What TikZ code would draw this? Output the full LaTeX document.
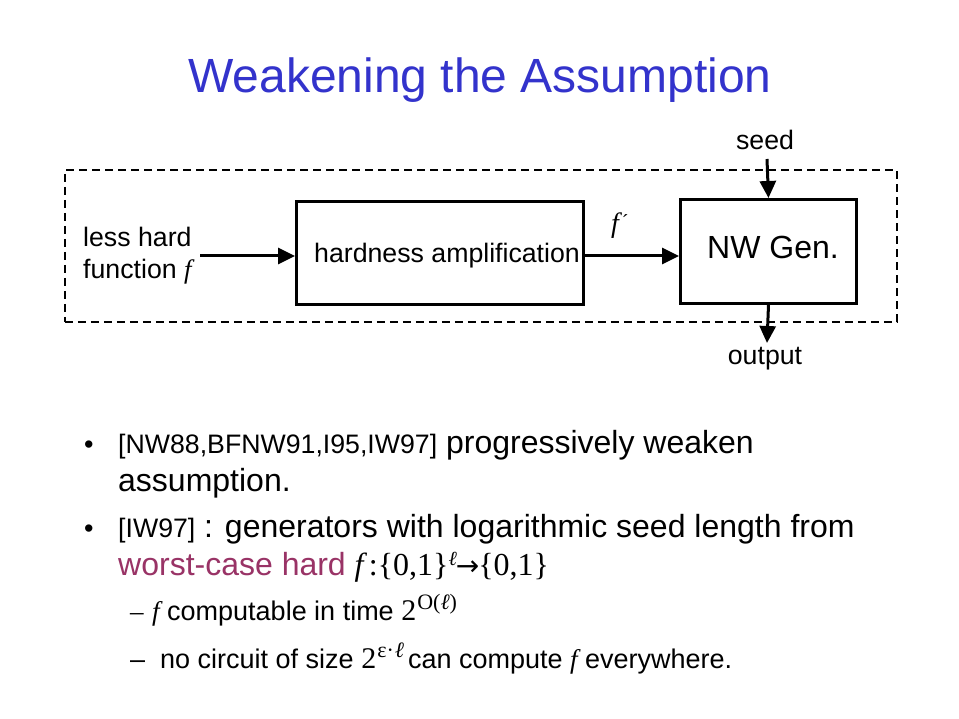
\documentclass[tikz,border=0pt]{standalone}
\usepackage{fontspec}
\setmainfont{Liberation Sans}
\newfontfamily\tms{Liberation Serif}
\newfontfamily\dvs{DejaVu Sans}
\usetikzlibrary{arrows.meta}
\definecolor{titleblue}{HTML}{3333CC}
\definecolor{plum}{HTML}{993366}
\newcommand{\fsz}[1]{\fontsize{#1}{#1}\selectfont}
\newcommand{\mf}{{\tms\itshape f}}
\begin{document}
\begin{tikzpicture}[x=1pt,y=-1pt,
  txt/.style={anchor=base west, inner sep=0pt, font=\fsz{27}},
  big/.style={anchor=base west, inner sep=0pt, font=\fsz{32}},
  box/.style={draw, line width=3pt, anchor=north west, inner sep=0pt},
  arr/.style={line width=3pt, -{Triangle[length=17pt,width=16pt]}},
  frame/.style={draw, line width=1.8pt, dash pattern=on 8pt off 5pt, anchor=north west, inner sep=0pt}]
\useasboundingbox (0,0) rectangle (959,719);
\fill[white] (0,0) rectangle (959,719);
% title
\node[anchor=base, inner sep=0pt, text=titleblue, font=\fsz{48}] (title) at (480,93) {Weakening the Assumption};
% diagram
\node[frame, minimum width=832pt, minimum height=152pt] (frm) at (64,169) {};
\node[box, minimum width=287pt, minimum height=103pt] (amp) at (295,200) {};
\node[txt, font=\fsz{26.7}] (amptxt) at (314,263) {hardness amplification};
\node[box, minimum width=176pt, minimum height=104pt] (nw) at (679,198) {};
\node[big] (nwtxt) at (707,259) {NW Gen.};
\node[txt, font=\fsz{26.7}] (less) at (83,247) {less hard};
\node[txt, font=\fsz{26.7}] (func) at (83,279) {function \mf};
\coordinate (inp) at (200,256);
\draw[arr] (inp) -- (amp.west |- inp);
\draw[arr] (amp.east |- inp) -- (nw.west |- inp);
\node[anchor=base west, inner sep=0pt, font=\fsz{28}] (fp) at (611,233) {\mf\kern3pt{\tms\fsz{20}\raisebox{4pt}{´}}};
\node[txt, font=\fsz{26.7}, anchor=base] (seed) at (765,150) {seed};
\coordinate (seedtop) at (767,159);
\draw[arr] (seedtop) -- (nw.north);
\coordinate (outend) at (767,343);
\draw[arr] (nw.south) -- (outend);
\node[txt, font=\fsz{26.7}, anchor=base] (out) at (765,365) {output};
% bullets
\node[txt] (bul1) at (84,453) {•};
\node[big] (l1) at (118,453) {{\fsz{26.7}[NW88,BFNW91,I95,IW97]} progressively weaken};
\node[big] (l2) at (118,491) {assumption.};
\node[txt] (bul2) at (84,537) {•};
\node[big] (l3) at (118,537) {{\fsz{26.7}[IW97]} : generators with logarithmic seed length from};
\node[big] (l4) at (118,575) {\textcolor{plum}{worst-case hard} {\tms\fsz{32}\itshape f\upshape\,:\{0,1\}\raisebox{10pt}{\fsz{20}\itshape ℓ}\kern-1pt{\dvs\fsz{28}→}\kern-1pt\{0,1\}}};
\node[txt] (d1) at (130,620) {{\tms –}};
\node[txt] (s1) at (152,620) {\mf{} computable in time {\tms\fsz{30}2\kern1pt\raisebox{11pt}{\fsz{22}O(\itshape ℓ\upshape)}}};
\node[txt] (d2) at (130,668) {–};
\node[txt] (s2) at (160,668) {no circuit of size {\tms\fsz{30}2\kern1pt\raisebox{11pt}{\fsz{22}ε·\kern1pt\itshape ℓ}}\kern4pt can compute \mf{} everywhere.};
\end{tikzpicture}
\end{document}
